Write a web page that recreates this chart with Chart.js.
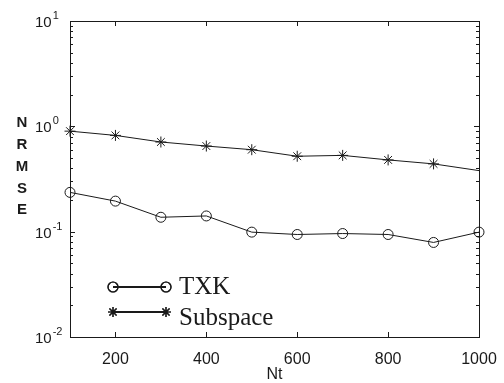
<!DOCTYPE html>
<html>
<head>
<meta charset="utf-8">
<script src="https://cdn.jsdelivr.net/npm/chart.js@4.4.1/dist/chart.umd.min.js"></script>
<style>
  html, body { margin: 0; padding: 0; background: #fff; }
  #wrap { width: 504px; height: 383px; position: relative; }
</style>
</head>
<body>
<div id="wrap"><canvas id="nrmseChart"></canvas></div>
<script>
  const ntValues = [100, 200, 300, 400, 500, 600, 700, 800, 900, 1000];
  const txkValues = [0.236, 0.195, 0.137, 0.141, 0.099, 0.094, 0.096, 0.094, 0.079, 0.099];
  const subspaceValues = [0.90, 0.82, 0.71, 0.65, 0.60, 0.52, 0.53, 0.48, 0.44, 0.38];
  const xTicks = [200, 400, 600, 800, 1000];
  const yTicks = [0.01, 0.1, 1, 10];
  const yTickExponents = ['-2', '-1', '0', '1'];
  const yTitleLetters = ['N', 'R', 'M', 'S', 'E'];

  const ink = '#1a1a1a';
  const sansFont = '"Liberation Sans", Arial, sans-serif';
  const serifFont = '"Liberation Serif", "Times New Roman", serif';

  // box round the plot, inward tick marks, power-of-ten labels and stacked title
  const axisBox = {
    id: 'axisBox',
    afterDraw(chart) {
      const { ctx, chartArea: a, scales } = chart;
      ctx.save();
      ctx.strokeStyle = ink;
      ctx.lineWidth = 1;
      ctx.strokeRect(a.left + 0.5, a.top + 0.5, a.right - a.left, a.bottom - a.top);
      ctx.beginPath();
      xTicks.forEach((v) => {
        const x = Math.round(scales.x.getPixelForValue(v)) + 0.5;
        ctx.moveTo(x, a.bottom); ctx.lineTo(x, a.bottom - 5);
        ctx.moveTo(x, a.top); ctx.lineTo(x, a.top + 5);
      });
      for (let d = -2; d < 1; d++) {
        for (let m = 1; m < 10; m++) {
          const y = Math.round(scales.y.getPixelForValue(m * Math.pow(10, d))) + 0.5;
          const len = m === 1 ? 5 : 3;
          ctx.moveTo(a.left, y); ctx.lineTo(a.left + len, y);
          ctx.moveTo(a.right, y); ctx.lineTo(a.right - len, y);
        }
      }
      ctx.stroke();

      ctx.fillStyle = ink;
      ctx.textAlign = 'left';
      ctx.textBaseline = 'alphabetic';
      yTicks.forEach((v, i) => {
        const y = scales.y.getPixelForValue(v);
        ctx.font = '15px ' + sansFont;
        ctx.fillText('10', 35, y + 6);
        const w = ctx.measureText('10').width;
        ctx.font = '11px ' + sansFont;
        ctx.fillText(yTickExponents[i], 35 + w + 1, y - 2);
      });

      ctx.font = 'bold 15px ' + sansFont;
      ctx.textAlign = 'center';
      ctx.textBaseline = 'middle';
      yTitleLetters.forEach((ch, i) => ctx.fillText(ch, 22, 123 + i * 21.8));
      ctx.restore();
    },
  };

  // legend in the lower left, a marker at each end of the line
  const cornerLegend = {
    id: 'cornerLegend',
    afterDatasetsDraw(chart) {
      const { ctx } = chart;
      const rows = [
        { label: 'TXK', style: 'circle', y: 287 },
        { label: 'Subspace', style: 'star', y: 312 },
      ];
      ctx.save();
      rows.forEach((row) => {
        ctx.strokeStyle = ink;
        ctx.lineWidth = 2;
        ctx.beginPath();
        ctx.moveTo(113, row.y); ctx.lineTo(166, row.y);
        ctx.stroke();
        ctx.lineWidth = 1.2;
        [113, 166].forEach((x) => {
          Chart.helpers.drawPoint(ctx, { pointStyle: row.style, radius: 5, rotation: 0, borderWidth: 1.2 }, x, row.y);
          ctx.stroke();
        });
        ctx.fillStyle = ink;
        ctx.font = '25px ' + serifFont;
        ctx.textAlign = 'left';
        ctx.textBaseline = 'middle';
        ctx.fillText(row.label, 179, row.y + (row.style === 'star' ? 6 : 0));
      });
      ctx.restore();
    },
  };

  new Chart(document.getElementById('nrmseChart'), {
    type: 'line',
    data: {
      labels: ntValues,
      datasets: [
        {
          label: 'TXK',
          data: ntValues.map((x, i) => ({ x, y: txkValues[i] })),
          borderColor: ink,
          borderWidth: 1,
          pointStyle: 'circle',
          pointRadius: 5,
          pointBorderWidth: 1,
          pointBorderColor: ink,
          pointBackgroundColor: 'transparent',
          clip: false,
        },
        {
          label: 'Subspace',
          data: ntValues.map((x, i) => ({ x, y: subspaceValues[i] })),
          borderColor: ink,
          borderWidth: 1,
          pointStyle: 'star',
          pointRadius: ntValues.map((x) => (x === 1000 ? 0 : 5.5)),
          pointBorderWidth: 1,
          pointBorderColor: ink,
          pointBackgroundColor: 'transparent',
          clip: false,
        },
      ],
    },
    options: {
      responsive: true,
      maintainAspectRatio: false,
      animation: false,
      layout: { padding: { top: 21, right: 25, left: 0, bottom: 0 } },
      plugins: {
        legend: { display: false },
        tooltip: { enabled: false },
      },
      scales: {
        x: {
          type: 'linear',
          min: 100,
          max: 1000,
          afterBuildTicks: (scale) => { scale.ticks = xTicks.map((value) => ({ value })); },
          afterFit: (scale) => { scale.height = 46; },
          grid: { display: false },
          border: { display: false },
          ticks: {
            color: ink,
            padding: 5,
            font: { family: sansFont, size: 16 },
            callback: (value) => String(value),
          },
          title: {
            display: true,
            text: 'Nt',
            color: ink,
            padding: { top: 0, bottom: 0 },
            font: { family: sansFont, size: 16, lineHeight: 1 },
          },
        },
        y: {
          type: 'logarithmic',
          min: 0.01,
          max: 10,
          afterBuildTicks: (scale) => { scale.ticks = yTicks.map((value) => ({ value })); },
          afterFit: (scale) => { scale.width = 70; },
          grid: { display: false },
          border: { display: false },
          ticks: { display: false },
        },
      },
    },
    plugins: [axisBox, cornerLegend],
  });
</script>
</body>
</html>
